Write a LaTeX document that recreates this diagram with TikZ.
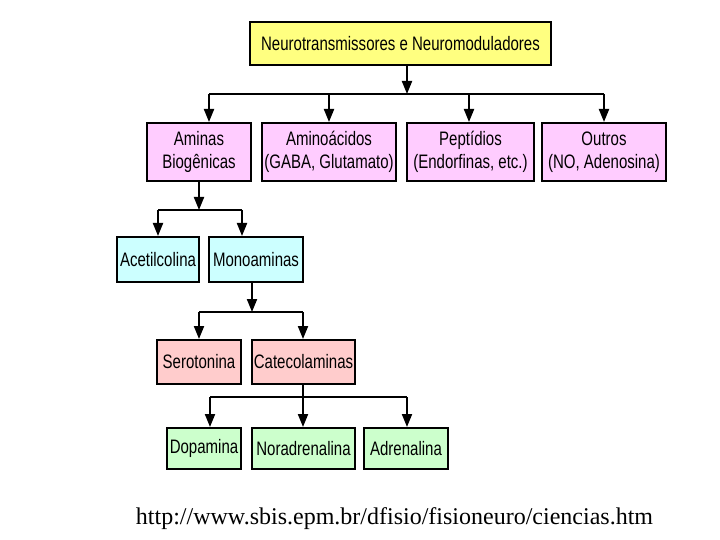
\documentclass[tikz,border=0pt]{standalone}
\usepackage{fontspec}
\setmainfont{Liberation Sans}[FakeStretch=0.77]
\newfontfamily\urlfont{Liberation Serif}
\usetikzlibrary{arrows.meta}
\definecolor{boxyellow}{RGB}{255,255,128}
\definecolor{boxpink}{RGB}{255,204,255}
\definecolor{boxcyan}{RGB}{204,255,255}
\definecolor{boxsalmon}{RGB}{255,204,204}
\definecolor{boxgreen}{RGB}{204,255,204}
\newcommand\mkbox[7]{%
  \node[box, fill=#6, minimum width={#4-#2}, minimum height={#5-#3}] (#1) at ({(#2+#4)/2},{(#3+#5)/2}) {#7};}
\begin{document}
\begin{tikzpicture}[x=1pt,y=-1pt,
  box/.style={draw=black, line width=2pt, inner sep=0pt, align=center,
    font=\fontsize{19.5}{23}\selectfont},
  conn/.style={draw=black, line width=2pt},
  connthin/.style={draw=black, line width=1.7pt},
  tip/.style={-{Triangle[length=13pt,width=10pt]}}
]
\fill[white] (0,0) rectangle (720,540);
\useasboundingbox (0,0) rectangle (720,540);

\mkbox{top}{250}{22}{551}{65}{boxyellow}{Neurotransmissores e Neuromoduladores}
\mkbox{amin}{147}{123}{251}{181}{boxpink}{Aminas\\Biogênicas}
\mkbox{aminoac}{262}{123}{396}{181}{boxpink}{Aminoácidos\\(GABA, Glutamato)}
\mkbox{pept}{407}{123}{534}{181}{boxpink}{Peptídios\\(Endorfinas, etc.)}
\mkbox{outros}{542}{123}{666}{181}{boxpink}{Outros\\(NO, Adenosina)}
\mkbox{acet}{117}{237}{199}{282}{boxcyan}{Acetilcolina}
\mkbox{mono}{209}{237}{303}{282}{boxcyan}{Monoaminas}
\mkbox{sero}{157}{340}{241}{384}{boxsalmon}{Serotonina}
\mkbox{cate}{252}{340}{355}{384}{boxsalmon}{Catecolaminas}
\mkbox{dopa}{167}{428}{241}{469}{boxgreen}{Dopamina}
\mkbox{nora}{252}{428}{355}{469}{boxgreen}{Noradrenalina}
\mkbox{adre}{364}{428}{448}{469}{boxgreen}{Adrenalina}

% level 1
\coordinate (s1) at (407,94);
\coordinate (d1a) at (209,94);
\coordinate (d1b) at (329,94);
\coordinate (d1c) at (469,94);
\coordinate (d1d) at (604,94);
\draw[conn,tip] (top.south -| s1) -- (s1);
\draw[conn] (d1a) -- (d1d);
\draw[conn,tip] (d1a) -- (d1a |- amin.north);
\draw[conn,tip] (d1b) -- (d1b |- aminoac.north);
\draw[conn,tip] (d1c) -- (d1c |- pept.north);
\draw[conn,tip] (d1d) -- (d1d |- outros.north);

% level 2
\coordinate (s2) at (199,210);
\coordinate (d2a) at (158,210);
\coordinate (d2b) at (242,210);
\draw[conn,tip] (amin.south -| s2) -- (s2);
\draw[connthin] (d2a) -- (d2b);
\draw[conn,tip] (d2a) -- (d2a |- acet.north);
\draw[conn,tip] (d2b) -- (d2b |- mono.north);

% level 3
\coordinate (s3) at (252,312);
\coordinate (d3a) at (199,312);
\coordinate (d3b) at (303,312);
\draw[conn,tip] (mono.south -| s3) -- (s3);
\draw[connthin] (d3a) -- (d3b);
\draw[conn,tip] (d3a) -- (d3a |- sero.north);
\draw[conn,tip] (d3b) -- (d3b |- cate.north);

% level 4
\coordinate (d4a) at (210,397);
\coordinate (d4b) at (303,397);
\coordinate (d4c) at (407,397);
\draw[connthin] (cate.south -| d4b) -- (d4b);
\draw[connthin] (d4a) -- (d4c);
\draw[conn,tip] (d4a) -- (d4a |- dopa.north);
\draw[conn,tip] (d4b) -- (d4b |- nora.north);
\draw[conn,tip] (d4c) -- (d4c |- adre.north);

\node[anchor=base, inner sep=0pt, font=\urlfont\fontsize{24}{28}\selectfont] (url) at (394.5,524) {http://www.sbis.epm.br/dfisio/fisioneuro/ciencias.htm};
\end{tikzpicture}
\end{document}
